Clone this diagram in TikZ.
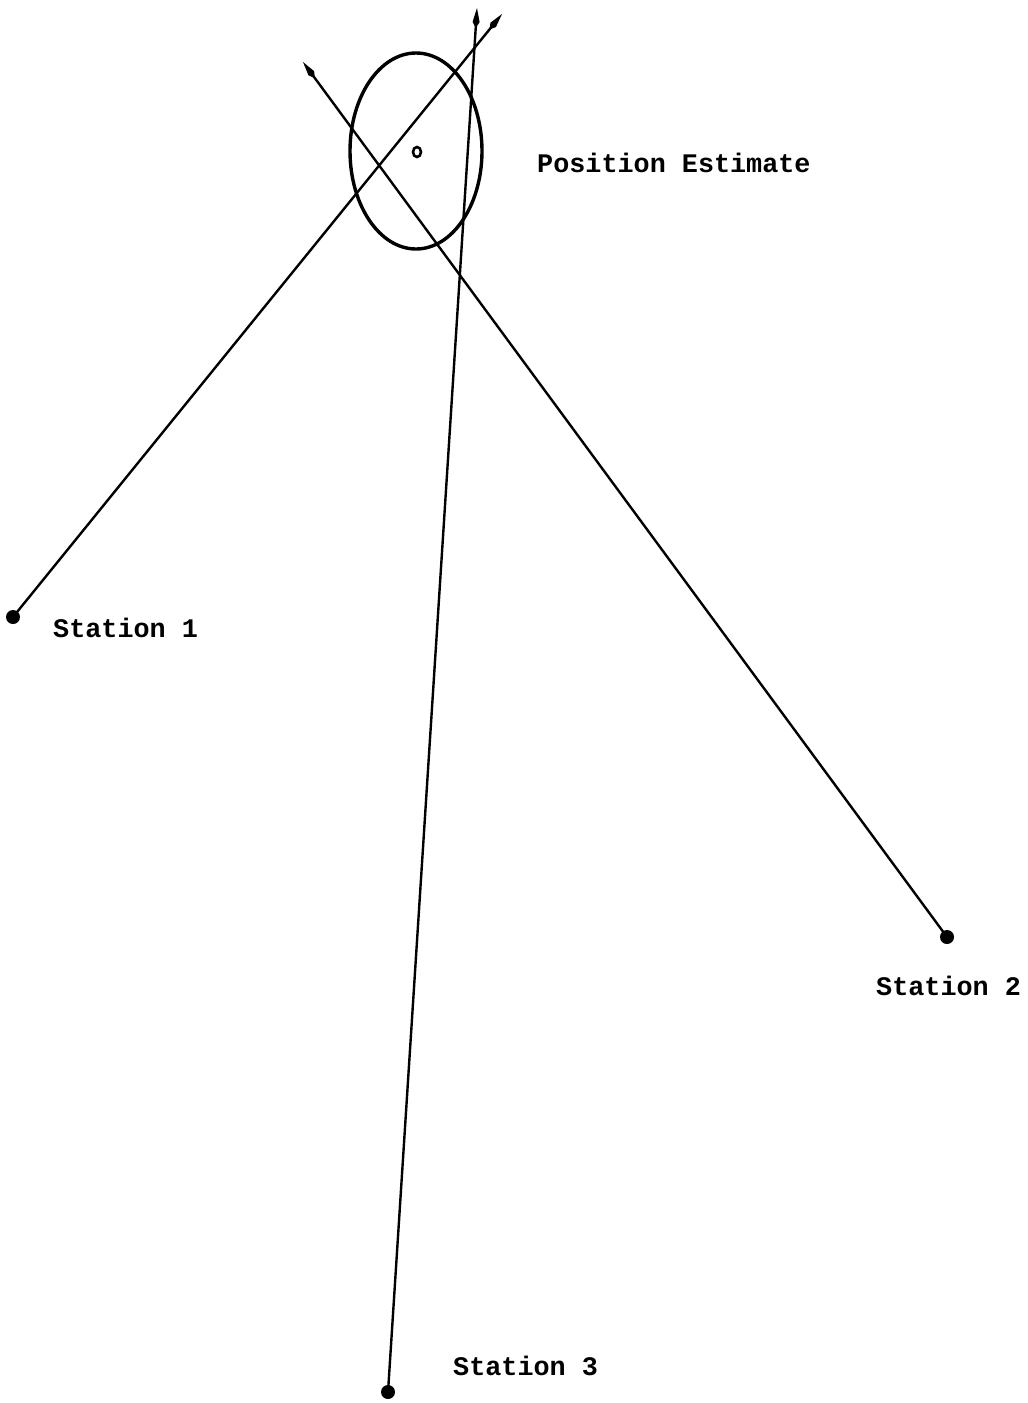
\documentclass[tikz,border=0pt]{standalone}
\usepackage{fontspec}
\setmonofont{Liberation Mono}
\usetikzlibrary{arrows.meta,shapes.geometric}
\tikzset{
  bearing/.style={line width=2.4pt, -{Kite[length=20pt,width=7pt,inset=6pt]}},
  station/.style={circle, fill=black, inner sep=0pt, minimum size=14pt},
  lbl/.style={anchor=west, inner sep=0pt, font=\ttfamily\bfseries\fontsize{26.8}{30}\selectfont}
}
\begin{document}
\begin{tikzpicture}[x=1pt,y=-1pt]
\useasboundingbox (0,0) rectangle (1028,1403);
\node[station] (s1) at (13,617) {};
\node[station] (s2) at (947,937) {};
\node[station] (s3) at (388,1392) {};
\coordinate (t1) at (502,14);
\coordinate (t2) at (303,62);
\coordinate (t3) at (477,8);
\draw[bearing] (s1.center) -- (t1);
\draw[bearing] (s2.center) -- (t2);
\draw[bearing] (s3.center) -- (t3);
\node[draw, line width=3.4pt, ellipse, minimum width=132pt, minimum height=196pt, inner sep=0pt] (ell) at (416,151) {};
\node[draw, line width=2.6pt, ellipse, minimum width=8pt, minimum height=10pt, inner sep=0pt] (est) at (417,152) {};
\node[lbl] (lpe) at (537,163) {Position Estimate};
\node[lbl] (l1) at (53,628) {Station 1};
\node[lbl] (l2) at (876,986) {Station 2};
\node[lbl] (l3) at (453,1366) {Station 3};
\end{tikzpicture}
\end{document}
